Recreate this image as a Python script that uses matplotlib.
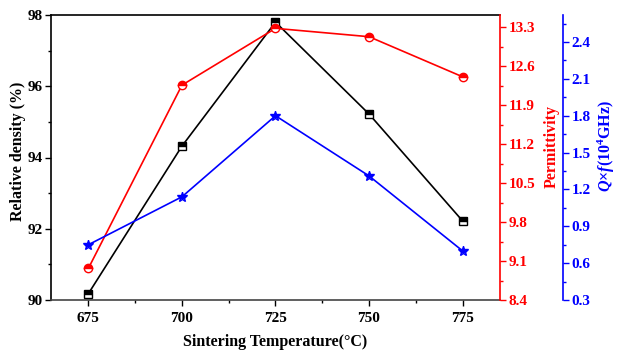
import matplotlib
matplotlib.use("Agg")
import matplotlib.pyplot as plt
from matplotlib.ticker import MultipleLocator

plt.rcParams['font.family'] = ['Liberation Serif', 'DejaVu Serif']
plt.rcParams['font.weight'] = 'bold'
plt.rcParams['mathtext.fontset'] = 'custom'
plt.rcParams['mathtext.rm'] = 'Liberation Serif:bold'
plt.rcParams['mathtext.it'] = 'Liberation Serif:italic:bold'
plt.rcParams['mathtext.bf'] = 'Liberation Serif:bold'

temps = [675, 700, 725, 750, 775]
density = [90.18, 94.32, 97.80, 95.22, 92.22]
permittivity = [8.97, 12.26, 13.28, 13.13, 12.41]
qf = [0.75, 1.14, 1.80, 1.31, 0.70]

fig = plt.figure(figsize=(6.17, 3.53), dpi=100)
ax = fig.add_axes([51/617, 53/353, 449/617, 285/353])
ax2 = ax.twinx()
ax3 = ax.twinx()
ax3.spines['right'].set_position(('outward', 45.5))

fs = 11
lfs = 11.5
ax.plot(temps, density, color='black', lw=1.2, marker='s', ms=5.5,
        fillstyle='top', markerfacecoloralt='white', mec='black', mfc='black', zorder=3)
ax2.plot(temps, permittivity, color='red', lw=1.2, marker='o', ms=6,
         fillstyle='top', markerfacecoloralt='white', mec='red', mfc='red')
ax3.plot(temps, qf, color='blue', lw=1.2, marker='*', ms=7.5,
         fillstyle='top', markerfacecoloralt='white', mec='blue', mfc='blue')

ax.set_xlim(665, 785)
ax.set_ylim(90, 98)
ax2.set_ylim(8.4, 13.52)
ax3.set_ylim(0.3, 2.62)

ax.xaxis.set_major_locator(MultipleLocator(25))
ax.xaxis.set_minor_locator(MultipleLocator(12.5))
ax.yaxis.set_major_locator(MultipleLocator(2))
ax.yaxis.set_minor_locator(MultipleLocator(1))
ax2.yaxis.set_major_locator(MultipleLocator(0.7))
ax2.yaxis.set_minor_locator(MultipleLocator(0.35))
ax3.yaxis.set_major_locator(MultipleLocator(0.3))
ax3.yaxis.set_minor_locator(MultipleLocator(0.15))

ax.set_yticks([90, 92, 94, 96, 98])
ax2.set_yticks([8.4, 9.1, 9.8, 10.5, 11.2, 11.9, 12.6, 13.3])
ax2.set_yticklabels(['8.4', '9.1', '9.8', '10.5', '11.2', '11.9', '12.6', '13.3'])
ax3.set_yticks([0.3, 0.6, 0.9, 1.2, 1.5, 1.8, 2.1, 2.4])
ax3.set_yticklabels(['0.3', '0.6', '0.9', '1.2', '1.5', '1.8', '2.1', '2.4'])

for a in (ax, ax2, ax3):
    a.tick_params(which='major', length=4, width=1, labelsize=fs, direction='out', pad=2)
    a.tick_params(which='minor', length=2.5, width=1, direction='out')
ax.tick_params(axis='x', which='major', pad=5)

ax.tick_params(axis='both', colors='black')
ax2.tick_params(axis='y', which='both', colors='red')
ax3.tick_params(axis='y', which='both', colors='blue')

for s in ax.spines.values():
    s.set_linewidth(1.2)
ax.spines['right'].set_visible(False)
ax2.spines['right'].set_color('red')
ax2.spines['right'].set_linewidth(1.2)
ax3.spines['right'].set_color('blue')
ax3.spines['right'].set_linewidth(1.2)
for a in (ax2, ax3):
    a.spines['left'].set_visible(False)
    a.spines['top'].set_visible(False)
    a.spines['bottom'].set_visible(False)
ax.spines['bottom'].set_color('#444444')

ax.set_xlabel('Sintering Temperature(°C)', fontsize=lfs, fontweight='bold', labelpad=6)
ax.set_ylabel('Relative density (%)', fontsize=lfs, fontweight='bold', labelpad=1)
ax2.set_ylabel('Permittivity', fontsize=lfs, fontweight='bold', color='red', labelpad=6)
ax3.set_ylabel(r'$Q$×$f$(10$^{4}$GHz)', fontsize=lfs, fontweight='bold', color='blue', labelpad=3.5)
ax.yaxis.label.set_y(0.52)
ax2.yaxis.label.set_y(0.54)
ax3.yaxis.label.set_y(0.54)

fig.savefig('out.png', dpi=100)
